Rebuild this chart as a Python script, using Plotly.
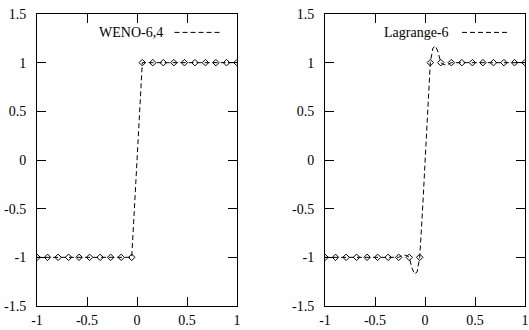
import plotly.graph_objects as go
from plotly.subplots import make_subplots

# Sample points (20 equally spaced nodes on [-1, 1])
node_x = [-1.0, -0.895, -0.789, -0.684, -0.579, -0.474, -0.368, -0.263, -0.158, -0.053,
          0.053, 0.158, 0.263, 0.368, 0.474, 0.579, 0.684, 0.789, 0.895, 1.0]
node_y = [-1, -1, -1, -1, -1, -1, -1, -1, -1, -1,
          1, 1, 1, 1, 1, 1, 1, 1, 1, 1]

# WENO-6,4 reconstructed curve
weno_x = [-1.0, -0.263, -0.158, -0.053, -0.026, 0.0, 0.026, 0.053, 0.158, 0.263, 1.0]
weno_y = [-1.0, -1.0, -1.0, -1.0, -0.5, 0.0, 0.5, 1.0, 1.0, 1.0, 1.0]

# Lagrange-6 interpolated curve
lag_x = [-1.0, -0.263, -0.237, -0.211, -0.184, -0.158, -0.132, -0.105, -0.079, -0.053,
         -0.026, 0.0, 0.026, 0.053, 0.079, 0.105, 0.132, 0.158, 0.184, 0.211, 0.237, 0.263, 1.0]
lag_y = [-1.0, -1.0, -0.985, -0.977, -0.981, -1.0, -1.105, -1.172, -1.150, -1.0,
         -0.54, 0.0, 0.54, 1.0, 1.150, 1.172, 1.105, 1.0, 0.981, 0.977, 0.985, 1.0, 1.0]

labels = ["WENO-6,4", "Lagrange-6"]
x_ticks = [-1, -0.5, 0, 0.5, 1]
x_ticktext = ["-1", "-0.5", "0", "0.5", "1"]
y_ticks = [-1.5, -1, -0.5, 0, 0.5, 1, 1.5]
y_ticktext = ["-1.5", "-1", "-0.5", "0", "0.5", "1", "1.5"]

FONT = "Liberation Serif"
DASH = "5px,3px"

W, H = 529, 330
ML, MR, MT, MB = 37, 4, 14, 24
plot_w = W - ML - MR
left_dom = [0, 200 / plot_w]
right_dom = [(325 - ML) / plot_w, 1]

fig = make_subplots(rows=1, cols=2)

curves = [(weno_x, weno_y), (lag_x, lag_y)]
for i, (cx, cy) in enumerate(curves):
    col = i + 1
    fig.add_trace(go.Scatter(x=cx, y=cy, mode="lines",
                             line=dict(color="black", width=1, dash=DASH),
                             showlegend=False, hoverinfo="skip"), row=1, col=col)
    fig.add_trace(go.Scatter(x=node_x, y=node_y, mode="markers",
                             marker=dict(symbol="diamond-open", size=5,
                                         color="black", line=dict(width=1, color="black")),
                             showlegend=False), row=1, col=col)

axis_common = dict(showline=True, linecolor="black", linewidth=1, mirror="ticks",
                   ticks="inside", ticklen=9, tickwidth=1, tickcolor="black",
                   showgrid=False, zeroline=False, automargin=False,
                   ticklabeloverflow="allow",
                   tickfont=dict(family=FONT, size=14, color="black"))

for i, dom in enumerate([left_dom, right_dom]):
    n = "" if i == 0 else str(i + 1)
    fig.update_layout(**{
        "xaxis" + n: dict(axis_common, domain=dom, range=[-1, 1],
                          tickvals=x_ticks, ticktext=x_ticktext, ticklabelstandoff=1),
        "yaxis" + n: dict(axis_common, range=[-1.5, 1.5],
                          tickvals=y_ticks, ticktext=y_ticktext, ticklabelstandoff=7),
    })

# gnuplot-style key: label text followed by a dashed sample line
key_text_x = [0.641, 0.6315]
key_line_x = [(0.6875, 0.9175), (0.685, 0.915)]
key_y = 0.937
for i in range(2):
    xr = "x domain" if i == 0 else "x2 domain"
    yr = "y domain" if i == 0 else "y2 domain"
    fig.add_annotation(text=labels[i], xref=xr, yref=yr, x=key_text_x[i], y=key_y,
                       xanchor="right", yanchor="middle", showarrow=False,
                       font=dict(family=FONT, size=14, color="black"))
    fig.add_shape(type="line", xref=xr, yref=yr,
                  x0=key_line_x[i][0], x1=key_line_x[i][1], y0=key_y, y1=key_y,
                  line=dict(color="black", width=1, dash=DASH))

fig.update_layout(width=W, height=H, margin=dict(l=ML, r=MR, t=MT, b=MB, autoexpand=False),
                  paper_bgcolor="white", plot_bgcolor="white", showlegend=False,
                  hovermode=False)

fig.write_html("out.html", config={"displayModeBar": False, "staticPlot": True},
               post_script="document.body.style.margin='0px';"
                           "document.body.style.overflow='hidden';")
